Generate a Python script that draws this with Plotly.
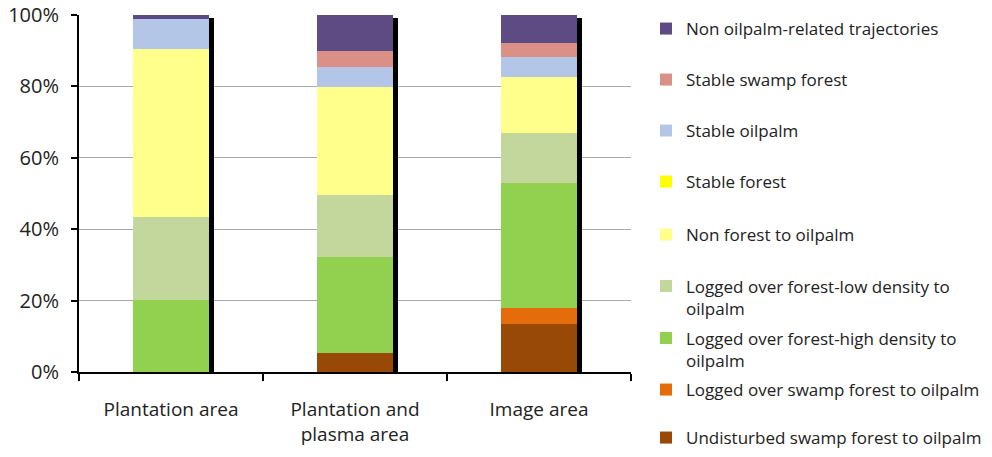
import numpy as np
import plotly.graph_objects as go

categories = ["Plantation area", "Plantation and<br>plasma area", "Image area"]

# series listed bottom-to-top of the stacks
series_names = [
    "Undisturbed swamp forest to oilpalm",
    "Logged over swamp forest to oilpalm",
    "Logged over forest-high density to<br>oilpalm",
    "Logged over forest-low density to<br>oilpalm",
    "Non forest to oilpalm",
    "Stable forest",
    "Stable oilpalm",
    "Stable swamp forest",
    "Non oilpalm-related trajectories",
]
undisturbed_swamp = [0.0, 5.4, 13.4]
logged_swamp = [0.0, 0.0, 4.4]
logged_high = [20.2, 26.9, 35.2]
logged_low = [23.1, 17.3, 14.0]
non_forest = [47.2, 30.3, 15.5]
stable_forest = [0.0, 0.0, 0.0]
stable_oilpalm = [8.4, 5.6, 5.8]
stable_swamp = [0.0, 4.4, 3.9]
non_oilpalm = [1.1, 10.1, 7.8]

series_values = [undisturbed_swamp, logged_swamp, logged_high, logged_low,
                 non_forest, stable_forest, stable_oilpalm, stable_swamp, non_oilpalm]
colors = ["#984807", "#E46C0A", "#92D050", "#C3D69B", "#FFFF8C",
          "#FFFF00", "#B3C6E7", "#DA9087", "#5F4B84"]

y_ticks = [0, 20, 40, 60, 80, 100]
y_tick_labels = ["0%", "20%", "40%", "60%", "80%", "100%"]
grid_ticks = [20, 40, 60, 80]

FONT = "Open Sans"
BAR_W = 0.41

vals = np.array(series_values)
totals = vals.sum(axis=0)
bases = np.vstack([np.zeros(vals.shape[1]), np.cumsum(vals, axis=0)[:-1]])

fig = go.Figure()

# dummy trace so the grid axis is drawn
fig.add_trace(go.Scatter(x=[categories[0]], y=[None], yaxis="y2",
                         showlegend=False, hoverinfo="skip"))

# shadow behind each stack
fig.add_trace(go.Bar(x=categories, y=totals - 0.8, base=0,
                     width=BAR_W, offset=-BAR_W / 2 + 0.026,
                     marker=dict(color="black", line=dict(width=0)),
                     showlegend=False, hoverinfo="skip"))

# legend slots: top item first
legend_y_px = [29, 80, 131, 182, 235, 297.5, 349.5, 390, 438]
order_top_down = list(range(len(series_names)))[::-1]

plot_top, plot_bot, plot_left, plot_right = 15, 372, 79, 631

legend_layouts = {}
for slot, idx in enumerate(order_top_down):
    lname = "legend" if slot == 0 else f"legend{slot + 1}"
    fig.add_trace(go.Bar(
        x=categories, y=series_values[idx], base=bases[idx],
        width=BAR_W, offset=-BAR_W / 2,
        name=series_names[idx],
        marker=dict(color=colors[idx], line=dict(width=0)),
        legend=lname,
    ))
    ypaper = (plot_bot - legend_y_px[slot]) / (plot_bot - plot_top)
    legend_layouts[lname] = dict(
        x=(646 - plot_left) / (plot_right - plot_left), xanchor="left",
        y=ypaper, yanchor="middle",
        bgcolor="rgba(0,0,0,0)", borderwidth=0,
        font=dict(family=FONT, size=17, color="#222222"),
        valign="top",
    )

fig.update_layout(
    width=992, height=457,
    margin=dict(l=plot_left, r=992 - plot_right, t=plot_top, b=457 - plot_bot,
                autoexpand=False),
    paper_bgcolor="white", plot_bgcolor="white",
    barmode="overlay",
    bargap=0,
    font=dict(family=FONT, size=16, color="#222222"),
    xaxis=dict(
        type="category", range=[-0.5, 2.5],
        showline=True, linecolor="black", linewidth=2,
        ticks="outside", tickson="boundaries", ticklen=7, tickwidth=1.5,
        tickcolor="black", showgrid=False, zeroline=False,
        tickfont=dict(family=FONT, size=19, color="#222222"),
        ticklabelstandoff=19,
    ),
    yaxis=dict(
        range=[0, 100], tickmode="array", tickvals=y_ticks, ticktext=y_tick_labels,
        showline=True, linecolor="black", linewidth=2,
        ticks="outside", ticklen=6, tickwidth=1.5, tickcolor="black",
        showgrid=False, zeroline=False,
        tickfont=dict(family=FONT, size=20, color="#222222"),
        ticklabelstandoff=8,
    ),
    yaxis2=dict(
        overlaying="y", range=[0, 100], tickvals=grid_ticks,
        showticklabels=False, ticks="", showline=False, zeroline=False,
        showgrid=True, gridcolor="#AAAAAA", gridwidth=1,
    ),
    **legend_layouts,
)

fig.write_html(
    "out.html",
    config={"displayModeBar": False},
    post_script="document.body.style.margin='0';document.body.style.padding='0';",
)
